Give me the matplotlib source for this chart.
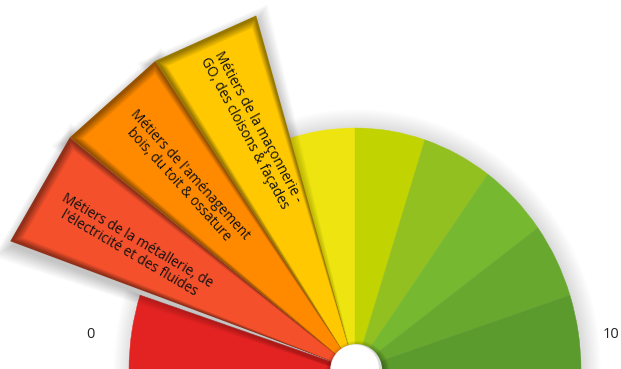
import matplotlib
matplotlib.use("Agg")
import matplotlib.pyplot as plt
from matplotlib.patches import Wedge, Ellipse, Polygon
import matplotlib.colors as mcolors
import numpy as np

plt.rcParams['font.family'] = ['Open Sans', 'DejaVu Sans']

# Data
segments = list(range(10))
colors = ['#E32322', '#F4502B', '#FF8A00', '#FFC800', '#EEE510',
          '#C1D300', '#92C020', '#76B82F', '#68A82E', '#5B9A2C']
exploded = [False, True, True, True, False, False, False, False, False, False]
labels = ['', "Métiers de la métallerie, de\nl'électricité et des fluides",
          "Métiers de l'aménagement\nbois, du toit & ossature",
          "Métiers de la maçonnerie -\nGO, des cloisons & façades",
          '', '', '', '', '', '']
scale_min, scale_max = '0', '10'

W, H = 621, 369
fig = plt.figure(figsize=(W / 100, H / 100), dpi=100)
ax = fig.add_axes([0, 0, 1, 1])
cx, cy, rx, ry = 355, 370, 226, 242
ax.set_xlim((0 - cx) / rx, (W - cx) / rx)
ax.set_ylim((cy - H) / ry, cy / ry)
ax.axis('off')

n = len(segments)
step = 180.0 / n
R_normal = 1.0
R_exp_px = 368.0
ang_off = -1.3


def exp_vertex(theta_deg, rpx):
    t = np.radians(theta_deg)
    phi = np.arctan2(ry * np.sin(t), rx * np.cos(t)) + np.radians(ang_off)
    return (rpx * np.cos(phi) / rx, rpx * np.sin(phi) / ry)


def tri(a1, a2, rpx, shrink_deg=0.0, dx=0.0, dy=0.0):
    p1 = exp_vertex(a1 + shrink_deg, rpx)
    p2 = exp_vertex(a2 - shrink_deg, rpx)
    return [(dx, dy), (p1[0] + dx, p1[1] + dy), (p2[0] + dx, p2[1] + dy)]


# soft shadow behind normal wedges
for k in range(12):
    for i in range(n):
        if exploded[i]:
            continue
        a1 = 180 - (i + 1) * step
        a2 = 180 - i * step
        ax.add_patch(Wedge((0.01, 0.0), R_normal + 0.007 * k, a1, a2,
                           facecolor='black', alpha=0.01, lw=0, zorder=1))

for i in range(n):
    a1 = 180 - (i + 1) * step
    a2 = 180 - i * step
    if not exploded[i]:
        ax.add_patch(Wedge((0, 0), R_normal, a1, a2, facecolor=colors[i],
                           edgecolor=colors[i], lw=0.3, zorder=2))

# exploded wedges with bevel
for i in range(n):
    if not exploded[i]:
        continue
    a1 = 180 - (i + 1) * step
    a2 = 180 - i * step
    base = np.array(mcolors.to_rgb(colors[i]))
    dark = base * 0.6
    for k in range(10):
        ax.add_patch(Polygon(tri(a1, a2, R_exp_px + 1.5 * k, -0.25 * k, 0.006, -0.022),
                             closed=True, facecolor='black', alpha=0.022, lw=0, zorder=3))
    ax.add_patch(Polygon(tri(a1, a2, R_exp_px), closed=True, facecolor=dark,
                         lw=0, zorder=4))
    for k, t in enumerate(np.linspace(0, 1, 6)):
        c = dark * (1 - t) + base * t
        ax.add_patch(Polygon(tri(a1, a2, R_exp_px - 1.8 * (k + 1), 0.2 * (k + 1)),
                             closed=True, facecolor=c, lw=0, zorder=5))

# labels on exploded wedges
label_pos = {1: (133, 247, -30.4), 2: (184, 180, -47.7), 3: (251, 130, -61.5)}
for i, (px, py, rot) in label_pos.items():
    ax.text((px - cx) / rx, (cy - py) / ry, labels[i], rotation=rot,
            rotation_mode='anchor', ha='center', va='center', fontsize=9.8,
            color='#111111', linespacing=1.0, zorder=8)

# central hole
for k in range(6):
    ax.add_patch(Ellipse((0.012, -0.012), 2 * (27 + k) / rx, 2 * (27 + k) / ry,
                         facecolor='black', alpha=0.05, lw=0, zorder=6))
ax.add_patch(Ellipse((0.005, 0), 2 * 26 / rx, 2 * 26 / ry, facecolor='#DDDDDD',
                     lw=0, zorder=6.5))
ax.add_patch(Ellipse((0.0, 0.005), 2 * 24 / rx, 2 * 24 / ry, facecolor='white',
                     lw=0, zorder=7))

ax.text((90 - cx) / rx, (cy - 335) / ry, scale_min, ha='center', va='center',
        fontsize=10.5, color='#222222')
ax.text((603 - cx) / rx, (cy - 335) / ry, scale_max, ha='left', va='center',
        fontsize=10.5, color='#222222')

fig.savefig('out.png', dpi=100)
